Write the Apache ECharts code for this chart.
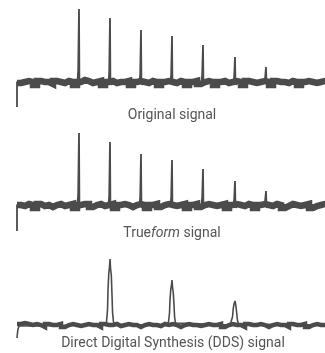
<!DOCTYPE html>
<html>
<head>
<meta charset="utf-8">
<script src="https://cdn.jsdelivr.net/npm/echarts@6/dist/echarts.min.js"></script>
<style>
  html, body { margin: 0; padding: 0; background: #fff; }
  #main { width: 325px; height: 353px; }
</style>
</head>
<body>
<div id="main"></div>
<script>
// panel labels
var labels = ['Original signal', 'True{it|form} signal', 'Direct Digital Synthesis (DDS) signal'];

// spike positions (time units) and heights
var spikeX = [62, 93, 124, 155, 186, 218, 249];
var origSpike = [73, 64, 52, 46, 37, 25, 15];
var origShoulder = [12, 9, 8, 8, 8, 6, 5];
var trueSpike = [72, 63, 51, 45, 36, 24, 14];
var trueShoulder = [12, 9, 8, 8, 8, 6, 5];

// noisy baseline samples (evenly spaced over the trace)
var origNoise = [-1, 0, 1, 0, -3, 1, 0, 0, -2, 1, 0, -1, 1, 0, -3, 0, 2, 1, -1, 0,
  1, -3, 0, 1, -1, 0, 0, 1, -3, 0, 1, 0, -1, 1, 0, -3, 0, 1, 0, -1,
  1, 0, -3, 0, 1, -2, 0, 1, 0, -3, 0, 1, -1, 0, 1, 0, -3, 1, 0, -1,
  0, 1, 0, -3, 1, 0, 0, -1, 1, 0, -3, 0, 1, 0, -1, 0, 1, 0];
var trueNoise = [0, -1, 1, 0, -3, 1, -1, 0, -2, 0, 1, -1, 0, 1, -3, 0, 1, 1, -2, 0,
  1, -1, 0, 1, -3, 0, 1, 0, -2, 0, 1, 0, -3, 0, 1, -2, 0, 1, 0, -1,
  0, 1, -3, 0, 1, -2, 0, 1, 0, -1, 0, 1, -3, 0, 1, 0, -1, 1, 0, -3,
  0, 1, 0, -1, 1, 0, -3, -1, 1, 0, -1, 0, 1, -3, -1, 0, 1, 0];
var ddsNoise = [1, 2, 1, 0, 1, 0, -2, 1, 0, 0, 1, -2, 0, 1, 0, -1, 0, 1, 0, 0,
  -2, 1, 0, 0, 1, -1, 0, 1, 0, 0, -2, 0, 1, 0, 0, -1, 1, 0, 1, 0,
  -2, 0, 1, 0, 0, -1, 0, 1, 0, 0, 1, -2, 0, 1, 0, 0, -2, 1, 0, 0,
  1, 0, -2, 0, 1, 0, 0, -2, 1, 0, 0, 1, -2, 0, 1, 0, 0, 1];

// DDS peaks: smooth, wider pulses
var ddsPeaks = [
  [88, 0], [89.5, 3], [90.5, 15], [91, 35], [91.8, 52], [92.5, 58], [93, 66], [93.6, 56], [94.3, 50], [95, 30], [95.6, 12], [96.5, 3], [98, 0],
  [150, 0], [151.5, 3], [152.5, 12], [153, 25], [153.8, 36], [154.5, 40], [155, 45], [155.6, 37], [156.3, 32], [157, 20], [157.6, 8], [158.5, 2], [160, 0],
  [213, 0], [214.5, 2], [215.5, 8], [216.2, 16], [217, 21], [218, 24], [218.8, 20], [219.6, 13], [220.4, 5], [221.5, 1], [223, 0]
];

var xMax = 308;
var lineColor = '#4b4b4b';

function noiseData(arr) {
  var out = [];
  for (var i = 0; i < arr.length; i++) {
    out.push([i * xMax / (arr.length - 1), arr[i]]);
  }
  return out;
}

function spikeData(tail, heights, shoulders) {
  var out = [[0, tail], [0, 0]];
  for (var i = 0; i < spikeX.length; i++) {
    var px = spikeX[i];
    out.push([px - 1.5, 0]);
    out.push([px - 0.8, shoulders[i]]);
    out.push([px - 0.3, shoulders[i] + 2]);
    out.push([px, heights[i]]);
    out.push([px + 0.4, 2]);
    out.push([px + 1, -3]);
    out.push([px + 2, 0]);
  }
  out.push([xMax, 0]);
  return out;
}

var ddsTrace = [[0, -13], [0.8, -5], [2, -1], [3.5, 0]].concat(ddsPeaks).concat([[xMax, 0]]);

var myChart = echarts.init(document.getElementById('main'));

var grids = [
  {left: 17, right: 0, top: 5, height: 105},
  {left: 17, right: 0, top: 125, height: 108},
  {left: 17, right: 0, top: 255, height: 85}
];
var yRanges = [[-28, 77], [-28, 80], [-15, 70]];

var xAxes = [], yAxes = [];
for (var g = 0; g < 3; g++) {
  xAxes.push({type: 'value', gridIndex: g, min: 0, max: xMax, show: false});
  yAxes.push({type: 'value', gridIndex: g, min: yRanges[g][0], max: yRanges[g][1], show: false});
}

function band(idx, data, width) {
  return {
    type: 'line', xAxisIndex: idx, yAxisIndex: idx, data: data,
    step: 'end', showSymbol: false, silent: true,
    lineStyle: {color: lineColor, width: width, join: 'miter', cap: 'butt'}
  };
}
function trace(idx, data, width) {
  return {
    type: 'line', xAxisIndex: idx, yAxisIndex: idx, data: data,
    showSymbol: false, silent: true,
    lineStyle: {color: lineColor, width: width}
  };
}

option = {
  animation: false,
  grid: grids,
  xAxis: xAxes,
  yAxis: yAxes,
  series: [
    band(0, noiseData(origNoise), 6.5),
    trace(0, spikeData(-25, origSpike, origShoulder), 1.8),
    band(1, noiseData(trueNoise), 6.5),
    trace(1, spikeData(-26, trueSpike, trueShoulder), 1.8),
    band(2, noiseData(ddsNoise), 4.5),
    trace(2, ddsTrace, 1.6)
  ],
  graphic: [
    {type: 'text', x: 172, y: 115, style: {text: labels[0], fill: '#555', font: '14px Roboto', align: 'center', verticalAlign: 'middle'}},
    {type: 'text', x: 172, y: 233, style: {text: labels[1], fill: '#555', font: '14px Roboto', align: 'center', verticalAlign: 'middle',
      rich: {it: {fontStyle: 'italic', fontSize: 14, fontFamily: 'Roboto', fill: '#555'}}}},
    {type: 'text', x: 173, y: 343, style: {text: labels[2], fill: '#555', font: '14px Roboto', align: 'center', verticalAlign: 'middle'}}
  ]
};
myChart.setOption(option);
</script>
</body>
</html>
